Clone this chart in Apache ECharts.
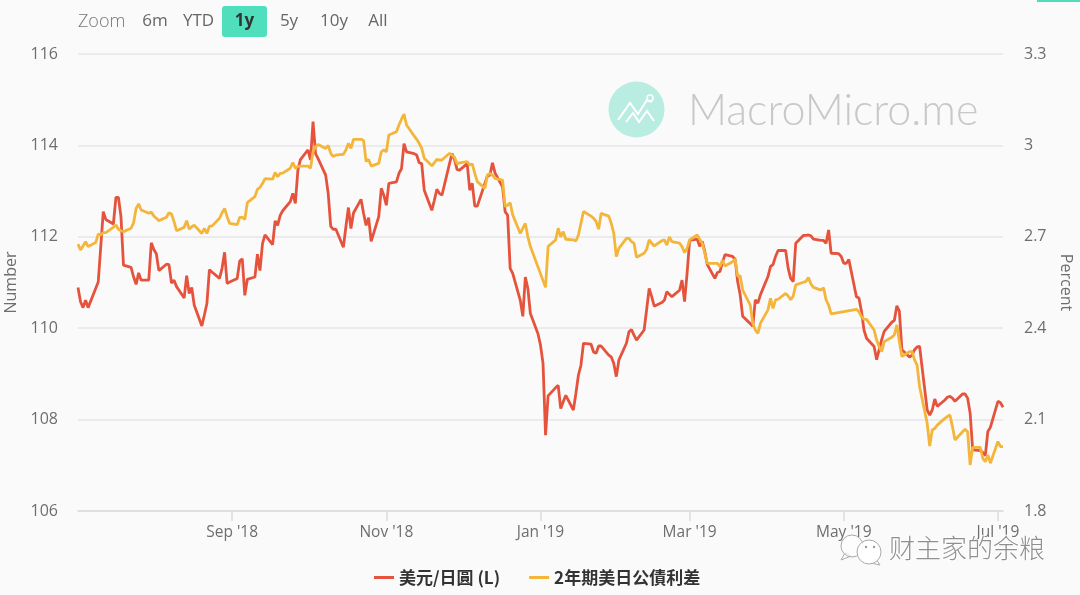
<!DOCTYPE html>
<html><head><meta charset="utf-8">
<style>html,body{margin:0;padding:0;background:#fafafa}#c{width:1080px;height:595px}</style>
<script src="https://cdn.jsdelivr.net/npm/echarts@6/dist/echarts.min.js"></script>
</head><body><div id="c"></div>
<script>
// Trading-day readings, Mon-Fri, one row per week starting at firstMonday
const firstMonday = '2018-07-02';
const lastDay = '2019-07-03';
const usdJpy = [
110.89,110.58,110.45,110.61,110.45,
110.87,111.01,111.78,112.55,112.38,
112.28,112.86,112.86,112.44,111.38,
111.33,111.12,110.96,111.21,111.05,
111.05,111.87,111.72,111.63,111.26,
111.40,111.39,110.99,111.05,110.91,
110.66,111.15,110.76,110.89,110.50,
110.05,110.29,110.54,111.28,111.23,
111.09,111.31,111.66,110.98,111.01,
111.09,111.47,111.52,110.72,111.07,
111.12,111.62,111.26,111.85,112.04,
111.83,112.35,112.25,112.47,112.57,
112.77,112.95,112.73,113.46,113.69,
113.90,113.68,114.52,113.82,113.71,
113.35,112.95,112.23,112.16,112.17,
111.77,112.22,112.64,112.18,112.52,
112.82,112.51,112.25,112.42,111.90,
112.44,113.06,112.91,112.69,113.17,
113.20,113.39,113.49,114.04,113.86,
113.82,113.79,113.62,113.60,113.02,
112.58,112.80,113.04,112.95,112.91,
113.60,113.82,113.69,113.47,113.46,
113.60,113.02,113.17,112.67,112.67,
113.17,113.33,113.35,113.62,113.40,
113.09,112.55,112.47,111.31,111.20,
110.61,110.26,111.12,110.87,110.32,
109.88,109.63,109.23,107.66,108.52,
108.70,108.75,108.24,108.39,108.53,
108.21,108.57,108.97,109.19,109.67,
109.65,109.48,109.45,109.61,109.61,
109.41,109.37,109.23,108.94,109.30,
109.67,109.92,109.97,109.85,109.74,
109.96,110.41,110.87,110.69,110.48,
110.56,110.61,110.80,110.74,110.69,
110.83,111.05,110.58,111.20,111.92,
111.95,111.79,111.90,111.68,111.39,
111.09,111.22,111.24,111.44,111.61,
111.57,111.51,111.02,110.73,110.26,
110.10,110.04,110.62,110.55,110.73,
111.13,111.35,111.39,111.57,111.70,
111.70,111.31,111.09,111.02,111.86,
112.03,112.03,112.04,112.02,111.95,
111.92,111.92,111.86,112.15,111.64,
111.63,111.57,111.42,111.42,111.50,
110.69,110.66,110.37,109.96,109.78,
109.60,109.31,109.53,109.75,109.93,
110.13,110.17,110.49,110.37,109.53,
109.37,109.41,109.53,109.59,109.60,
108.21,108.10,108.21,108.45,108.29,
108.43,108.49,108.51,108.47,108.40,
108.56,108.56,108.47,108.14,107.34,
107.32,107.28,107.21,107.74,107.83,
108.40,108.37,108.27];
const spread = [
2.676,2.657,2.670,2.684,2.668,
2.681,2.709,2.706,2.714,2.714,
2.731,2.739,2.725,2.720,2.717,
2.728,2.746,2.793,2.808,2.788,
2.777,2.781,2.768,2.761,2.753,
2.764,2.779,2.775,2.750,2.720,
2.731,2.753,2.725,2.733,2.738,
2.711,2.728,2.711,2.735,2.735,
2.761,2.779,2.793,2.766,2.744,
2.740,2.764,2.764,2.757,2.812,
2.832,2.856,2.862,2.875,2.891,
2.889,2.911,2.897,2.908,2.909,
2.925,2.944,2.925,2.930,2.932,
2.932,2.925,2.979,2.996,3.003,
2.990,3.000,2.974,2.963,2.968,
2.971,2.985,3.007,2.990,3.020,
3.020,3.016,2.947,2.954,2.932,
2.941,2.979,2.985,2.979,3.034,
3.045,3.067,3.086,3.103,3.067,
3.031,3.020,3.007,2.990,2.958,
2.933,2.943,2.954,2.952,2.952,
2.974,2.968,2.961,2.939,2.943,
2.947,2.936,2.939,2.908,2.881,
2.859,2.903,2.908,2.903,2.892,
2.886,2.799,2.804,2.812,2.772,
2.711,2.728,2.744,2.700,2.668,
null,null,null,2.534,2.668,
2.690,2.728,2.700,2.717,2.692,
2.690,2.686,2.706,2.744,2.783,
2.768,2.761,2.750,2.725,2.777,
2.768,2.744,2.711,2.635,2.662,
2.695,2.695,2.684,2.679,2.633,
2.646,2.659,2.690,2.679,2.670,
2.687,2.690,2.673,2.700,2.684,
2.679,2.668,2.648,2.662,2.690,
2.706,2.692,2.679,2.646,2.613,
2.613,2.613,2.602,2.624,2.604,
2.618,2.627,2.571,2.572,2.525,
2.476,2.416,2.394,2.383,2.416,
2.460,2.498,2.465,2.493,2.495,
2.514,2.506,2.493,2.506,2.542,
2.551,2.553,2.566,2.545,2.534,
2.525,2.533,2.493,2.476,2.447,
null,null,null,null,null,
2.462,2.454,2.438,2.429,2.429,
2.394,2.361,2.339,2.323,2.356,
2.370,2.378,2.411,2.356,2.307,
2.323,2.323,2.296,2.279,2.208,
2.088,2.013,2.066,2.071,2.082,
2.104,2.110,2.115,2.077,2.033,
2.060,2.068,2.060,1.951,2.009,
2.009,1.973,1.962,1.984,1.957,
2.028,2.011,2.011];
const tickDates = ['2018-09-01','2018-11-01','2019-01-01','2019-03-01','2019-05-01','2019-07-01'];
const tickLabels = ["Sep '18","Nov '18","Jan '19","Mar '19","May '19","Jul '19"];
const leftTicks = {min:106,max:116,interval:2};
const rightTicks = {min:1.8,max:3.3,interval:0.3};
const seriesNames = ['美元/日圓 (L)','2年期美日公債利差'];
const zoomButtons = ['6m','YTD','1y','5y','10y','All'];

const ts = s => new Date(s+'T00:00:00').getTime();
const tradingDays = [];
{ const d = new Date(firstMonday+'T00:00:00');
  while (tradingDays.length < usdJpy.length) {
    if (d.getDay()%6) tradingDays.push(d.getTime());
    d.setDate(d.getDate()+1);
  } }
const pair = a => a.map((v,i)=>[tradingDays[i],v]);
const tickTs = tickDates.map(ts);
const uiFont = '"Open Sans","Noto Sans",sans-serif';
const gray = '#6e6e6e';

const chart = echarts.init(document.getElementById('c'),null,{renderer:'canvas'});
const btnX = {'6m':155,'YTD':198.5,'1y':244.5,'5y':289,'10y':334,'All':378};
const graphic = [
 {type:'rect',shape:{x:1037,y:0,width:43,height:2},style:{fill:'#4fdcbb'},silent:true},
 {type:'text',style:{x:78,y:22,text:'Zoom',font:'300 18px '+uiFont,fill:'#777',textVerticalAlign:'middle'},silent:true},
 {type:'rect',shape:{x:222,y:6,width:45,height:31,r:3},style:{fill:'#4fdfbd'},silent:true},
 ...zoomButtons.map(b=>({type:'text',style:{x:btnX[b],y:21,text:b,
   font:(b==='1y'?'bold ':'')+'17px '+uiFont,fill:b==='1y'?'#333':'#666',textAlign:'center',textVerticalAlign:'middle'},silent:true})),
 // MacroMicro watermark
 {type:'circle',z:-1,shape:{cx:636.5,cy:109.5,r:28},style:{fill:'#b9ede1'},silent:true},
 {type:'polyline',z:-1,shape:{points:[[618,120],[630,103],[638,114],[647,100],[652,102]]},style:{stroke:'#fff',lineWidth:2,fill:null},silent:true},
 {type:'polyline',z:-1,shape:{points:[[626,122],[633,113],[639,122],[647,111],[654,121]]},style:{stroke:'#fff',lineWidth:2,fill:null},silent:true},
 {type:'circle',z:-1,shape:{cx:650,cy:98,r:3},style:{stroke:'#fff',lineWidth:1.5,fill:'#b9ede1'},silent:true},
 {type:'text',z:-1,style:{x:688,y:111,text:'MacroMicro.me',font:'300 43px Lato,"Open Sans",sans-serif',fill:'#c8c8c8',textVerticalAlign:'middle'},silent:true},
 // WeChat-style caption
 {type:'polygon',z:50,shape:{points:[[845,553],[841,560],[851,556]]},style:{fill:'#fff',stroke:'#aaa',lineWidth:1},silent:true},
 {type:'circle',z:50,shape:{cx:852,cy:546,r:11},style:{fill:'rgba(255,255,255,.65)',stroke:'#aaa',lineWidth:1},silent:true},
 {type:'polygon',z:51,shape:{points:[[876,559],[880,565],[871,563]]},style:{fill:'#fff',stroke:'#aaa',lineWidth:1},silent:true},
 {type:'circle',z:51,shape:{cx:869,cy:552,r:12},style:{fill:'rgba(255,255,255,.9)',stroke:'#aaa',lineWidth:1},silent:true},
 {type:'circle',z:52,shape:{cx:866,cy:547,r:1.2},style:{fill:'#999'},silent:true},
 {type:'circle',z:52,shape:{cx:874,cy:547,r:1.2},style:{fill:'#999'},silent:true},
 {type:'text',z:52,style:{x:889,y:548,text:'财主家的余粮',font:'300 26px "Noto Sans CJK SC",sans-serif',fill:'#8f8f8f',
   stroke:'#fff',lineWidth:1.5,textVerticalAlign:'middle'},silent:true}
];
chart.setOption({
 animation:false,
 backgroundColor:'#fafafa',
 grid:{left:78,right:77,top:54,bottom:84,outerBoundsMode:'none'},
 legend:{left:369,top:564,itemGap:29,itemWidth:20,itemHeight:3,icon:'rect',
  textStyle:{fontFamily:'"Noto Sans CJK SC",sans-serif',fontSize:17,fontWeight:'bold',color:'#333'},
  data:seriesNames},
 xAxis:{type:'value',min:ts(firstMonday),max:ts(lastDay),scale:true,
  axisLine:{lineStyle:{color:'#dcdcdc',width:1.5}},
  axisTick:{show:true,length:10,customValues:tickTs,lineStyle:{color:'#dcdcdc',width:1.5}},
  axisLabel:{customValues:tickTs,margin:14,fontFamily:uiFont,fontSize:15.5,color:gray,hideOverlap:false,
   formatter:v=>tickLabels[tickTs.indexOf(v)]||''},
  splitLine:{show:false}},
 yAxis:[
  {type:'value',...leftTicks,name:'Number',nameLocation:'middle',nameGap:58,nameRotate:90,
   nameTextStyle:{fontFamily:uiFont,fontSize:16,color:gray},
   axisLine:{show:false},axisTick:{show:false},
   axisLabel:{margin:20,padding:[2,0,0,0],fontFamily:uiFont,fontSize:16,color:gray},
   splitLine:{lineStyle:{color:'#e6e6e6',width:1.5}}},
  {type:'value',...rightTicks,name:'Percent',nameLocation:'middle',nameGap:54,nameRotate:-90,
   nameTextStyle:{fontFamily:uiFont,fontSize:16,color:gray},
   axisLine:{show:false},axisTick:{show:false},
   axisLabel:{margin:21,padding:[2,0,0,0],fontFamily:uiFont,fontSize:16,color:gray,formatter:v=>String(+v.toFixed(1))},
   splitLine:{show:false}}
 ],
 series:[
  {name:seriesNames[0],type:'line',yAxisIndex:0,data:pair(usdJpy),showSymbol:false,
   lineStyle:{color:'#e5533d',width:2.8},itemStyle:{color:'#e5533d'},z:3},
  {name:seriesNames[1],type:'line',yAxisIndex:1,data:pair(spread),showSymbol:false,connectNulls:true,
   lineStyle:{color:'#f3b63b',width:2.8},itemStyle:{color:'#f3b63b'},z:4}
 ],
 graphic:graphic
});
</script></body></html>
